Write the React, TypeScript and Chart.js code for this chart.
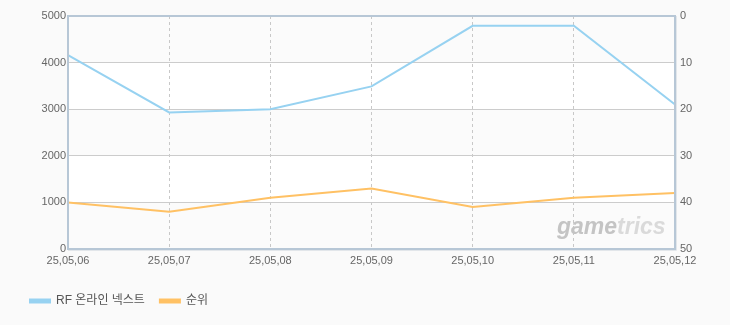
import React, { useEffect, useRef } from "react";
import { Chart, registerables } from "chart.js";

Chart.register(...registerables);

const categories = ["25,05,06", "25,05,07", "25,05,08", "25,05,09", "25,05,10", "25,05,11", "25,05,12"];
const gameValues = [4160, 2930, 3000, 3490, 4790, 4790, 3100];
const rankValues = [40, 42, 39, 37, 41, 39, 38];
const leftTicks = [0, 1000, 2000, 3000, 4000, 5000];
const rightTicks = [0, 10, 20, 30, 40, 50];
const seriesNames = ["RF 온라인 넥스트", "순위"];

const FONT = "'Liberation Sans', 'Noto Sans CJK KR', sans-serif";

const bandPlugin = {
  id: "bands",
  beforeDraw(chart: any) {
    const { ctx, chartArea } = chart;
    const y = chart.scales.y;
    ctx.save();
    for (let i = 0; i < leftTicks.length - 1; i++) {
      const top = y.getPixelForValue(leftTicks[i + 1]);
      const bot = y.getPixelForValue(leftTicks[i]);
      ctx.fillStyle = i % 2 === 0 ? "#fbfbfb" : "#ffffff";
      ctx.fillRect(chartArea.left, top, chartArea.right - chartArea.left, bot - top);
    }
    ctx.restore();
  },
  afterDatasetsDraw(chart: any) {
    const { ctx, chartArea } = chart;
    ctx.save();
    // watermark
    ctx.font = "italic bold 23px 'Liberation Sans', sans-serif";
    ctx.textBaseline = "alphabetic";
    ctx.fillStyle = "#c4c4c4";
    const x0 = chartArea.right - 118;
    const yb = chartArea.bottom - 15;
    ctx.fillText("game", x0, yb);
    const w = ctx.measureText("game").width;
    ctx.fillStyle = "#dadada";
    ctx.fillText("trics", x0 + w, yb);
    // border
    ctx.strokeStyle = "#b7c7d6";
    ctx.lineWidth = 2;
    ctx.strokeRect(chartArea.left, chartArea.top, chartArea.right - chartArea.left, chartArea.bottom - chartArea.top);
    ctx.strokeStyle = "#e2e6ea";
    ctx.lineWidth = 1;
    ctx.beginPath();
    ctx.moveTo(chartArea.left, chartArea.bottom + 1.5);
    ctx.lineTo(chartArea.right + 1.5, chartArea.bottom + 1.5);
    ctx.lineTo(chartArea.right + 1.5, chartArea.top);
    ctx.stroke();
    ctx.restore();
  },
};

export default function App() {
  const ref = useRef<HTMLCanvasElement>(null);
  useEffect(() => {
    if (!ref.current) return;
    const chart = new Chart(ref.current, {
      type: "line",
      data: {
        labels: categories,
        datasets: [
          {
            label: seriesNames[0],
            data: gameValues,
            borderColor: "#97d2f1",
            backgroundColor: "#97d2f1",
            borderWidth: 2,
            pointRadius: 0,
            tension: 0,
            yAxisID: "y",
          },
          {
            label: seriesNames[1],
            data: rankValues,
            borderColor: "#ffc164",
            backgroundColor: "#ffc164",
            borderWidth: 2,
            pointRadius: 0,
            tension: 0,
            yAxisID: "y1",
          },
        ],
      },
      options: {
        animation: false,
        responsive: false,
        maintainAspectRatio: false,
        layout: { padding: { left: 15, right: 0, top: 16, bottom: 8 } },
        plugins: {
          tooltip: { enabled: false },
          legend: {
            position: "bottom",
            align: "start",
            labels: {
              boxWidth: 20,
              boxHeight: 3,
              padding: 15,
              color: "#555555",
              font: { family: FONT, size: 12 },
            },
          },
        },
        scales: {
          x: {
            offset: false,
            grid: {
              color: "#c8c8c8",
              drawTicks: false,
            },
            border: { display: false, dash: [3, 3] },
            ticks: {
              color: "#666666",
              font: { family: FONT, size: 11 },
              padding: 5,
              maxRotation: 0,
              autoSkip: false,
            },
            afterFit(scale: any) {
              scale.height = 31;
            },
          },
          y: {
            position: "left",
            min: 0,
            max: 5000,
            afterBuildTicks(scale: any) {
              scale.ticks = leftTicks.map((v) => ({ value: v }));
            },
            grid: { color: "#cccccc", drawTicks: false },
            border: { display: false },
            ticks: {
              color: "#666666",
              font: { family: FONT, size: 11 },
              padding: 2,
              callback: (v: any) => String(v),
            },
            afterFit(scale: any) {
              scale.width = 53;
            },
          },
          y1: {
            position: "right",
            min: 0,
            max: 50,
            reverse: true,
            afterBuildTicks(scale: any) {
              scale.ticks = rightTicks.map((v) => ({ value: v }));
            },
            grid: { display: false, drawTicks: false },
            border: { display: false },
            ticks: {
              color: "#666666",
              font: { family: FONT, size: 11 },
              padding: 5,
              callback: (v: any) => String(v),
            },
            afterFit(scale: any) {
              scale.width = 55;
            },
          },
        },
      },
      plugins: [bandPlugin],
    });
    return () => chart.destroy();
  }, []);

  return (
    <div style={{ position: "absolute", left: 0, top: 0, width: 730, height: 325, background: "#fafafa" }}>
      <canvas ref={ref} width={730} height={325} style={{ display: "block", width: 730, height: 325 }} />
    </div>
  );
}
